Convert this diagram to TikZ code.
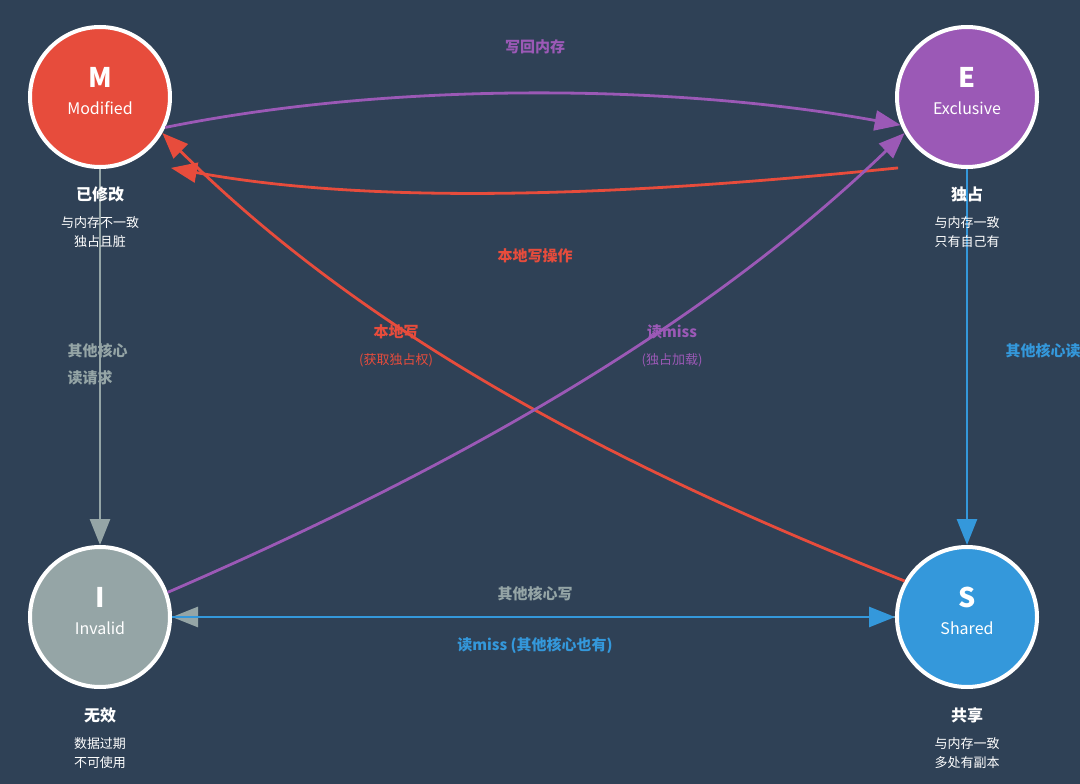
\documentclass[tikz,border=0pt]{standalone}
\usepackage{fontspec}
\setmainfont{Noto Sans CJK SC}
\usetikzlibrary{arrows.meta}
\definecolor{bg}{HTML}{2F4156}
\definecolor{mred}{HTML}{E74C3C}
\definecolor{mpurple}{HTML}{9B59B6}
\definecolor{mblue}{HTML}{3498DB}
\definecolor{mgray}{HTML}{95A5A6}
\tikzset{
  state/.style={circle, minimum size=140pt, inner sep=0pt, draw=white, line width=4pt},
  letter/.style={text=white, font=\fontsize{27}{28}\selectfont\bfseries},
  word/.style={text=white, font=\fontsize{16}{18}\selectfont},
  title/.style={text=white, font=\fontsize{16}{18}\selectfont\bfseries},
  note/.style={text=white, font=\fontsize{13}{19}\selectfont, align=center},
  elabel/.style={font=\fontsize{15}{27}\selectfont\bfseries, align=center},
  arrow/.style={line width=2.8pt, -{Triangle[length=26pt,width=20pt]}}
}
\begin{document}
\begin{tikzpicture}[x=1pt,y=-1pt]
\fill[bg] (0,0) rectangle (1080,784);
\clip (0,0) rectangle (1080,784);

% States
\node (M) [state, fill=mred] at (100,97) {};
\node (E) [state, fill=mpurple] at (967,97) {};
\node (I) [state, fill=mgray] at (100,617) {};
\node (S) [state, fill=mblue] at (967,617) {};
\node (Ml) [letter] at ([yshift=20pt]M.center) {M};
\node (Mw) [word] at ([yshift=-11pt]M.center) {Modified};
\node (El) [letter] at ([yshift=20pt]E.center) {E};
\node (Ew) [word] at ([yshift=-11pt]E.center) {Exclusive};
\node (Il) [letter] at ([yshift=20pt]I.center) {I};
\node (Iw) [word] at ([yshift=-11pt]I.center) {Invalid};
\node (Sl) [letter] at ([yshift=20pt]S.center) {S};
\node (Sw) [word] at ([yshift=-11pt]S.center) {Shared};

% Vertical transitions (drawn under the captions)
\draw [arrow, mgray] (M.south) -- (I.north);
\draw [arrow, mblue] (E.south) -- (S.north);

% Captions
\node (Mt) [title] at (100,194) {已修改};
\node (Mn) [note] at (100,232) {与内存不一致\\独占且脏};
\node (Et) [title] at (967,194) {独占};
\node (En) [note] at (967,232) {与内存一致\\只有自己有};
\node (It) [title] at (100,715) {无效};
\node (In) [note] at (100,753) {数据过期\\不可使用};
\node (St) [title] at (967,715) {共享};
\node (Sn) [note] at (967,753) {与内存一致\\多处有副本};

% Curved transitions
\draw [arrow, mpurple] (M.-25) .. controls (400,80) and (680,85) .. (E.203);
\draw [arrow, mred] ([shift={(-18,20)}]E.225) .. controls (680,190) and (400,210) .. ([shift={(20,20)}]M.-45);
\draw [arrow, mred] (S.150) .. controls (650,480) and (380,350) .. (M.-30);
\draw [arrow, mpurple] (I.20) .. controls (450,470) and (700,330) .. (E.-150);

% Horizontal transitions
\draw [arrow, mgray] (S.west) -- (I.east);
\draw [arrow, mblue] (I.east) -- (S.west);

% Labels
\node (lwb) [elabel, text=mpurple] at (535,47) {写回内存};
\node (llw) [elabel, text=mred] at (535,256) {本地写操作};
\node (lsm) [elabel, text=mred] at (396,346) {本地写\\{\fontsize{13}{15}\selectfont\mdseries (获取独占权)}};
\node (lim) [elabel, text=mpurple] at (672,346) {读miss\\{\fontsize{13}{15}\selectfont\mdseries (独占加载)}};
\node (lmi) [elabel, text=mgray, align=left, anchor=west] at (64,364) {其他核心\\读请求};
\node (les) [elabel, text=mblue, anchor=west] at (1002,351) {其他核心读请求};
\node (lsi) [elabel, text=mgray] at (535,594) {其他核心写};
\node (lis) [elabel, text=mblue] at (535,646) {读miss (其他核心也有)};
\end{tikzpicture}
\end{document}
